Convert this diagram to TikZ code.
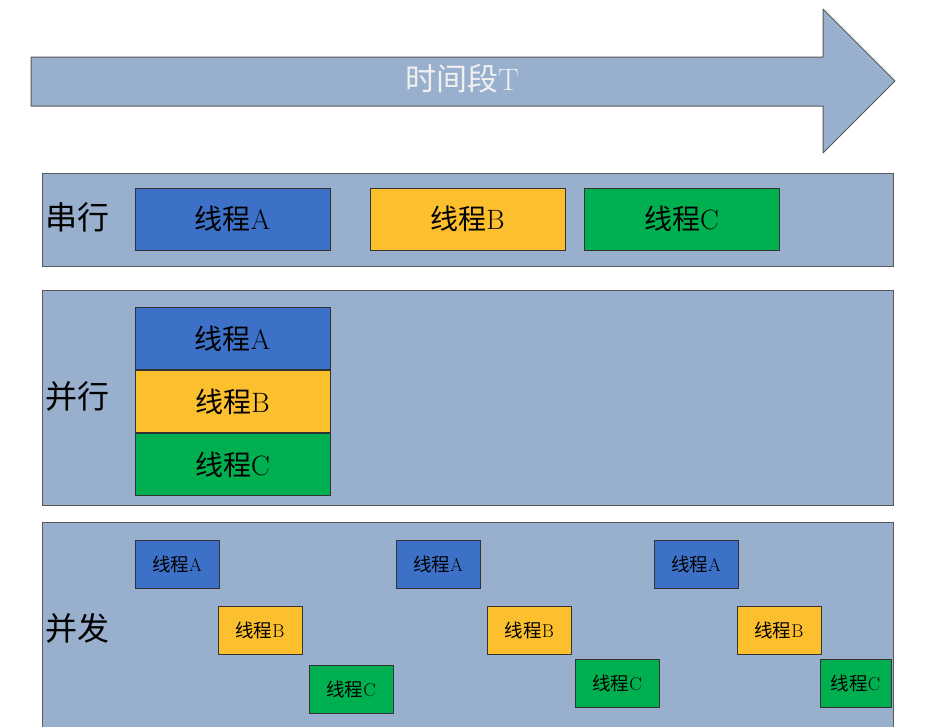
\documentclass[tikz,border=0pt]{standalone}
\usepackage{fontspec}
\newfontfamily\cjk{Noto Sans CJK SC}
\usetikzlibrary{positioning}
\definecolor{bandc}{RGB}{152,175,205}
\definecolor{threada}{RGB}{61,113,199}
\definecolor{threadb}{RGB}{252,191,45}
\definecolor{threadc}{RGB}{0,176,80}
\tikzset{band/.style={fill=bandc,draw=black!65,line width=1},
	thread/.style={draw=black!80,line width=0.9,minimum width=195,minimum height=62,inner sep=0,font=\fontsize{28}{28}\selectfont},
	small/.style={thread,minimum width=84,minimum height=48,font=\fontsize{18.5}{18.5}\selectfont},
	mode/.style={anchor=west,inner sep=0,font=\cjk\fontsize{32}{32}\selectfont}}
\newcommand{\xc}[1]{{\cjk 线程}#1}
\begin{document}
\begin{tikzpicture}[x=1pt,y=-1pt]
	\useasboundingbox (0,0) rectangle (936,726);
	\clip (0,0) rectangle (936,726);
	\draw[band,line join=round] (31,57)--(823,57)--(823,9)--(895,81)--(823,153)--(823,106)--(31,106)--cycle;
	\node[text=white!94!black,font=\fontsize{31}{31}\selectfont] (period) at (462,79) {{\cjk 时间段}T};
	\draw[band] (42,173) rectangle (893,266);
	\draw[band] (42,290) rectangle (893,505);
	\draw[band] (42,522) rectangle (893,740);
	\node[mode] (serial) at (45,217) {串行};
	\node[mode] (parallel) at (45,396) {并行};
	\node[mode] (concur) at (45,628) {并发};
	\node[thread,fill=threada] (sa) at (232.5,219) {\xc{A}};
	\node[thread,fill=threadb] (sb) at (467.5,219) {\xc{B}};
	\node[thread,fill=threadc] (sc) at (681.5,219) {\xc{C}};
	\node[thread,fill=threada] (pa) at (232.5,338.5) {\xc{A}};
	\node[thread,fill=threadb,below=0pt of pa] (pb) {\xc{B}};
	\node[thread,fill=threadc,below=0pt of pb] (pc) {\xc{C}};
	\node[small,fill=threada] (ca1) at (177,564) {\xc{A}};
	\node[small,fill=threadb] (cb1) at (260,630) {\xc{B}};
	\node[small,fill=threadc] (cc1) at (351,689.5) {\xc{C}};
	\node[small,fill=threada] (ca2) at (438,564) {\xc{A}};
	\node[small,fill=threadb] (cb2) at (529.5,630) {\xc{B}};
	\node[small,fill=threadc] (cc2) at (617,683.5) {\xc{C}};
	\node[small,fill=threada] (ca3) at (696,564) {\xc{A}};
	\node[small,fill=threadb] (cb3) at (779,630) {\xc{B}};
	\node[small,fill=threadc,minimum width=71] (cc3) at (855.5,683.5) {\xc{C}};
\end{tikzpicture}
\end{document}
